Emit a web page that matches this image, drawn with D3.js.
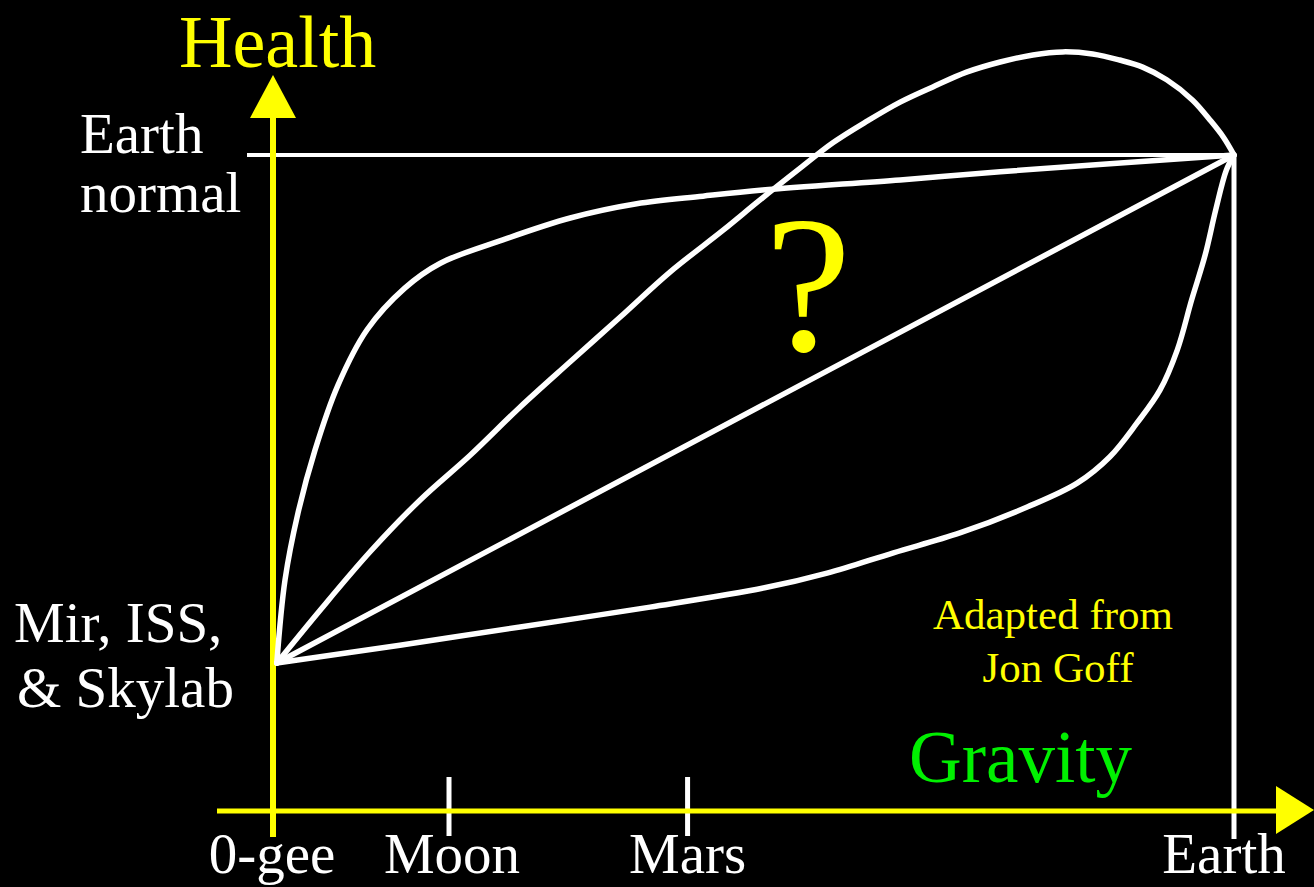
<!DOCTYPE html>
<html><head><meta charset="utf-8">
<script src="https://cdn.jsdelivr.net/npm/d3@7"></script>
<style>
html,body{margin:0;padding:0;background:#000;overflow:hidden}
svg{display:block}
text{font-family:"Liberation Serif","Times New Roman",serif}
</style></head>
<body>
<svg id="chart" width="1314" height="887"></svg>
<script>
// ---- data (gravity in fraction of Earth g, as placed on the picture; health relative to Earth normal) ----
const tickLabels = ["0-gee", "Moon", "Mars", "Earth"];
const tickGravity = [0, 0.184, 0.432, 1];

const earthNormal = [1, 1];    // Earth gravity, Earth-normal health

const curveFastRise = [[0.005,0],[0.0135,0.163],[0.027,0.295],[0.0447,0.419],[0.0686,0.547],[0.0988,0.656],
  [0.138,0.738],[0.175,0.787],[0.240,0.833],[0.310,0.876],[0.379,0.904],[0.448,0.919],[0.510,0.931],
  [0.653,0.951],[0.757,0.967],[1,1]];

const curveLinear = [[0.005,0],[1,1]];

const curveOvershoot = [[0.005,0],[0.050,0.104],[0.102,0.219],[0.154,0.321],[0.206,0.409],[0.258,0.504],
  [0.310,0.593],[0.362,0.681],[0.414,0.770],[0.469,0.852],[0.507,0.911],[0.549,0.974],[0.583,1.024],
  [0.619,1.067],[0.653,1.104],[0.687,1.134],[0.722,1.163],[0.757,1.183],[0.791,1.197],[0.822,1.203],
  [0.853,1.199],[0.881,1.187],[0.905,1.173],[0.930,1.148],[0.957,1.108],[0.975,1.069],[0.989,1.035],[1,1]];

const curveSlowRise = [[0.005,0],[0.133,0.035],[0.258,0.071],[0.393,0.110],[0.512,0.148],[0.577,0.177],
  [0.646,0.217],[0.715,0.256],[0.785,0.307],[0.837,0.354],[0.871,0.406],[0.899,0.472],[0.923,0.537],
  [0.941,0.616],[0.956,0.715],[0.970,0.803],[0.981,0.892],[0.992,0.970],[1,1]];

const curves = [curveFastRise, curveLinear, curveOvershoot, curveSlowRise];

// ---- layout ----
const svg = d3.select("#chart");
const W = 1314, H = 887;
svg.append("rect").attr("width", W).attr("height", H).attr("fill", "#000");

const x = d3.scaleLinear().domain([0, 1]).range([272, 1234]);
const y = d3.scaleLinear().domain([0, 1]).range([663, 155]);

const YELLOW = "#ffff00", WHITE = "#ffffff", GREEN = "#00f000";
const axisY = 811, axisX = 273;

// Earth-normal horizontal reference line
svg.append("line")
  .attr("x1", 247).attr("x2", x(earthNormal[0]))
  .attr("y1", y(earthNormal[1])).attr("y2", y(earthNormal[1]))
  .attr("stroke", WHITE).attr("stroke-width", 4);

// Earth gravity vertical line
svg.append("line")
  .attr("x1", x(1)).attr("x2", x(1))
  .attr("y1", y(1)).attr("y2", 839)
  .attr("stroke", WHITE).attr("stroke-width", 5);

// Tick marks (Moon, Mars)
svg.selectAll("line.tick").data(tickGravity.filter(g => g > 0 && g < 1)).enter()
  .append("line").attr("class", "tick")
  .attr("x1", d => x(d)).attr("x2", d => x(d))
  .attr("y1", 777).attr("y2", 836)
  .attr("stroke", WHITE).attr("stroke-width", 5);

// Axes
svg.append("line").attr("x1", 217).attr("x2", 1280).attr("y1", axisY).attr("y2", axisY)
  .attr("stroke", YELLOW).attr("stroke-width", 5);
svg.append("path").attr("d", `M1276,786 L1314,810 L1276,834 Z`).attr("fill", YELLOW);

svg.append("line").attr("x1", axisX).attr("x2", axisX).attr("y1", 837).attr("y2", 114)
  .attr("stroke", YELLOW).attr("stroke-width", 6);
svg.append("path").attr("d", `M250,118 L273,75 L296,118 Z`).attr("fill", YELLOW);

// Curves
const line = d3.line().x(d => x(d[0])).y(d => y(d[1])).curve(d3.curveCatmullRom.alpha(0.5));
svg.selectAll("path.curve").data(curves).enter()
  .append("path").attr("class", "curve")
  .attr("d", line)
  .attr("fill", "none").attr("stroke", WHITE).attr("stroke-width", 5.5)
  .attr("stroke-linejoin", "round").attr("stroke-linecap", "round");

// Tick labels
svg.selectAll("text.tl").data(tickLabels).enter()
  .append("text").attr("class", "tl")
  .attr("x", (d, i) => x(tickGravity[i]) + (i === tickLabels.length - 1 ? -10 : (i === 1 ? 3 : 0)))
  .attr("y", 873)
  .attr("text-anchor", "middle")
  .attr("font-size", 57).attr("fill", WHITE)
  .text(d => d);

// Titles and annotations
function label(txt, px, py, size, color, anchor) {
  svg.append("text").attr("x", px).attr("y", py).attr("font-size", size)
    .attr("fill", color).attr("text-anchor", anchor || "start").text(txt);
}
label("Health", 179, 67, 74, YELLOW);
label("Gravity", 909, 782, 73, GREEN);
label("Earth", 80, 153, 57, WHITE);
label("normal", 80, 212, 57, WHITE);
label("Mir, ISS,", 14, 642, 57, WHITE);
label("& Skylab", 17, 707, 57, WHITE);
label("Adapted from", 1053, 629, 43, YELLOW, "middle");
label("Jon Goff", 1058, 682, 43, YELLOW, "middle");
label("?", 808, 350, 195, YELLOW, "middle");
</script>
</body></html>
